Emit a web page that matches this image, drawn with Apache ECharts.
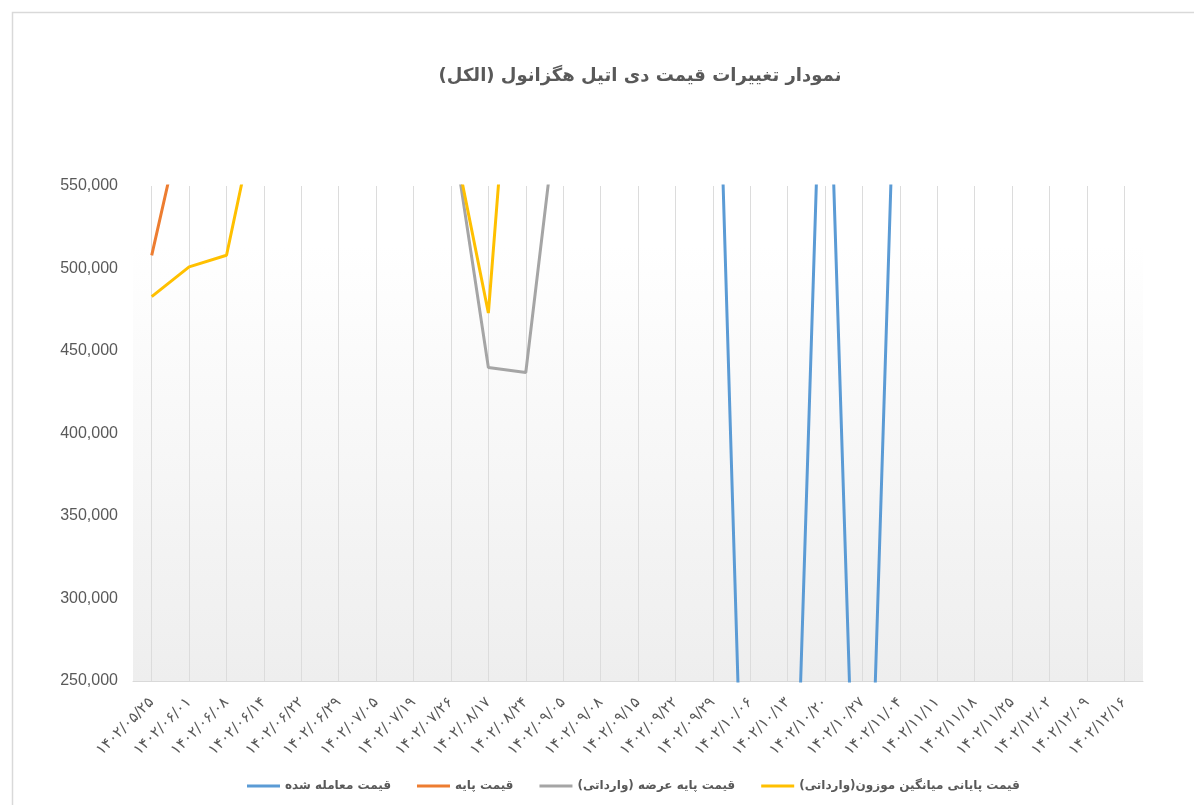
<!DOCTYPE html>
<html>
<head>
<meta charset="utf-8">
<script src="https://cdn.jsdelivr.net/npm/echarts@6/dist/echarts.min.js"></script>
<style>
html,body{margin:0;padding:0;background:#fff;}
#chart{width:1194px;height:805px;}
</style>
</head>
<body>
<div id="chart"></div>
<script>
const RLM = '\u200F';
const titleText = 'نمودار تغییرات قیمت دی اتیل هگزانول (الکل)' + RLM;

const categories = ['۱۴۰۲/۰۵/۲۵','۱۴۰۲/۰۶/۰۱','۱۴۰۲/۰۶/۰۸','۱۴۰۲/۰۶/۱۴','۱۴۰۲/۰۶/۲۲','۱۴۰۲/۰۶/۲۹','۱۴۰۲/۰۷/۰۵','۱۴۰۲/۰۷/۱۹','۱۴۰۲/۰۷/۲۶','۱۴۰۲/۰۸/۱۷','۱۴۰۲/۰۸/۲۴','۱۴۰۲/۰۹/۰۵','۱۴۰۲/۰۹/۰۸','۱۴۰۲/۰۹/۱۵','۱۴۰۲/۰۹/۲۲','۱۴۰۲/۰۹/۲۹','۱۴۰۲/۱۰/۰۶','۱۴۰۲/۱۰/۱۳','۱۴۰۲/۱۰/۲۰','۱۴۰۲/۱۰/۲۷','۱۴۰۲/۱۱/۰۴','۱۴۰۲/۱۱/۱۱','۱۴۰۲/۱۱/۱۸','۱۴۰۲/۱۱/۲۵','۱۴۰۲/۱۲/۰۲','۱۴۰۲/۱۲/۰۹','۱۴۰۲/۱۲/۱۶'];

const seriesNames = ['قیمت معامله شده', 'قیمت پایه', 'قیمت پایه عرضه (وارداتی)' + RLM, 'قیمت پایانی میانگین موزون(وارداتی)' + RLM];

// traded price
const tradedPrice = [null,null,null,null,null,null,null,null,null,null,null,null,null,null,null,760000,0,0,718000,0,725000,null,null,null,null,null,null];
// base price
const basePrice = [508000,608000,640000,640000,650000,650000,660000,660000,600000,600000,600000,640000,660000,680000,700000,720000,720000,700000,690000,690000,700000,700000,700000,710000,720000,720000,720000];
// base offer price (imported)
const baseOfferImported = [null,null,null,null,null,null,null,null,590000,440000,437000,627000,640000,650000,660000,680000,700000,700000,690000,690000,700000,700000,710000,710000,720000,720000,720000];
// weighted average final price (imported)
const weightedAvgImported = [483000,501000,508000,615000,630000,640000,640000,610000,586000,473000,761000,650000,670000,690000,700000,720000,730000,720000,710000,710000,720000,720000,730000,730000,740000,740000,740000];

const yTicks = {min: 250000, max: 550000, interval: 50000};
const colors = ['#5B9BD5', '#ED7D31', '#A5A5A5', '#FFC000'];
const seriesData = [tradedPrice, basePrice, baseOfferImported, weightedAvgImported];

const chart = echarts.init(document.getElementById('chart'), null, {renderer: 'canvas'});
chart.setOption({
  animation: false,
  backgroundColor: '#ffffff',
  color: colors,
  title: {
    text: titleText,
    left: 635,
    top: 62,
    textAlign: 'center',
    textStyle: {fontFamily: 'DejaVu Sans', fontWeight: 'bold', fontSize: 18, color: '#595959'}
  },
  graphic: [{
    type: 'rect',
    silent: true,
    shape: {x: 12.5, y: 12.5, width: 1400, height: 1000},
    style: {fill: 'none', stroke: '#d9d9d9', lineWidth: 1.5}
  }],
  legend: {
    bottom: 8,
    left: 242,
    data: seriesNames,
    icon: 'rect',
    itemWidth: 33,
    itemHeight: 3,
    itemGap: 26,
    textStyle: {fontFamily: 'DejaVu Sans', fontWeight: 'bold', fontSize: 12, color: '#595959'}
  },
  grid: {
    left: 133, right: 51, top: 186, bottom: 124,
    show: true, borderWidth: 0,
    backgroundColor: {
      type: 'linear', x: 0, y: 0, x2: 0, y2: 1,
      colorStops: [{offset: 0, color: '#ffffff'}, {offset: 0.12, color: '#ffffff'}, {offset: 1, color: '#eeeeee'}]
    }
  },
  xAxis: {
    type: 'category',
    data: categories,
    boundaryGap: true,
    axisLine: {show: true, lineStyle: {color: '#d9d9d9', width: 1}},
    axisTick: {show: false},
    splitLine: {show: true, alignWithLabel: true, lineStyle: {color: '#dcdcdc', width: 1}},
    axisLabel: {
      interval: 0, rotate: 45, margin: 19,
      fontFamily: 'DejaVu Sans', fontSize: 15, color: '#595959'
    }
  },
  yAxis: {
    type: 'value',
    min: yTicks.min, max: yTicks.max, interval: yTicks.interval,
    axisLine: {show: false},
    axisTick: {show: false},
    splitLine: {show: false},
    axisLabel: {
      margin: 15,
      fontFamily: 'Liberation Sans', fontSize: 16, color: '#595959',
      formatter: v => v.toLocaleString('en-US')
    }
  },
  series: seriesNames.map((name, i) => ({
    name: name,
    type: 'line',
    data: seriesData[i],
    symbol: 'none',
    clip: true,
    lineStyle: {width: 3, color: colors[i]},
    itemStyle: {color: colors[i]}
  }))
});
</script>
</body>
</html>
